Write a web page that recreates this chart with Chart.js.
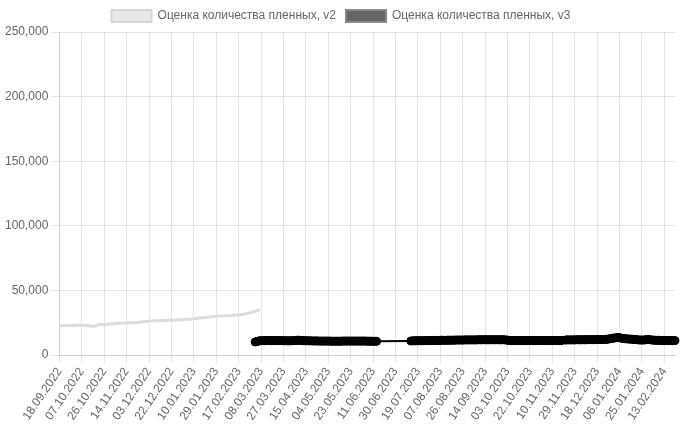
<!DOCTYPE html>
<html lang="ru">
<head>
    <meta charset="utf-8">
    <style>
        body {
            margin: 0;
            background-color: #fff;
        }

        #chartContainer {
            width: 680px;
            height: 425px;
        }
    </style>
</head>
<body>

<div id="chartContainer">
    <canvas id="pwChart"></canvas>
</div>

<script src="https://cdn.jsdelivr.net/npm/chart.js"></script>
<script>
    // date range of the x axis (one category per day)
    const firstDay = '18.09.2022';
    const lastDay = '22.02.2024';

    const seriesNames = ['Оценка количества пленных, v2', 'Оценка количества пленных, v3'];
    const yTicks = [0, 50000, 100000, 150000, 200000, 250000];

    // v2: daily values from 18.09.2022 to 07.03.2023
    const v2Values = [
        22800, 22800, 22850, 22850, 22800, 22850, 22900, 22900, 22850, 22900, 22950, 22900, 22950,
        23000, 23000, 23050, 23100, 23100, 23150, 23200, 23150, 23100, 23000, 22900, 22800, 22700, 22600, 22500, 22450, 22400, 22400, 22500, 22900, 23700, 24000, 23900, 23700, 23600, 23500, 23500, 23600, 23800, 24000, 24100,
        24200, 24300, 24300, 24400, 24500, 24500, 24600, 24600, 24700, 24700, 24800, 24800, 24800, 24900, 24900, 24900, 25000, 25000, 25000, 25100, 25100, 25200, 25300, 25400, 25500, 25600, 25700, 25800, 25900, 26000,
        26100, 26200, 26300, 26400, 26400, 26500, 26500, 26600, 26600, 26600, 26700, 26700, 26700, 26800, 26800, 26800, 26900, 26900, 26900, 27000, 27000, 27000, 27100, 27100, 27100, 27200, 27200, 27300, 27300, 27400, 27400,
        27500, 27500, 27600, 27600, 27700, 27700, 27800, 27900, 28000, 28100, 28300, 28400, 28500, 28600, 28700, 28800, 28900, 29000, 29100, 29200, 29300, 29400, 29500, 29600, 29700, 29800, 29900, 30000, 30000, 30100, 30100,
        30200, 30200, 30300, 30300, 30400, 30400, 30500, 30500, 30600, 30600, 30700, 30700, 30800, 30900, 31000, 31100, 31200, 31300, 31400, 31500, 31700, 31900, 32100, 32300, 32500, 32700, 32900, 33100,
        33400, 33700, 34000, 34300, 34600, 34900, 35100
    ];

    // v3: daily values from 03.03.2023 to 22.02.2024 (null = no report)
    const v3FirstDay = '03.03.2023';
    const v3Values = [
        10200, 10400, 10700, 11000, 11100, 11100, 11200, 11200, 11200, 11300, 11300, 11300, 11300, 11300, 11200, 11200, 11200, 11300, 11300, 11300, 11300, 11300, 11200, 11200, 11200, 11200, 11100, 11100, 11100,
        11100, 11100, 11200, 11200, 11200, 11300, 11400, 11500, 11600, 11500, 11400, 11300, 11200, 11200, 11100, 11100, 11100, 11100, 11100, 11000, 11000, 11000, 11000, 11000, 11000, 10900, 10900, 10900, 10900, 10900,
        10900, 10900, 10900, 10900, 10900, 10800, 10800, 10800, 10800, 10800, 10800, 10800, 10800, 10800, 10800, 10900, 10900, 10900, 10900, 10900, 10900, 10900, 10900, 10900, 10900, 10900, 10900, 10900, 10900, 10900, 10900,
        10900, 10900, 10900, 10900, 10900, 10800, 10800, 10800, 10800, 10800, 10800, 10700, 10700, 10700,
        null, null, null, null, null, null, null, null, null, null, null, null, null, null, null, null,
        null, null, null, null, null, null, null, null, null, null, null, null,
        11000, 11000, 11100, 11100, 11100, 11100, 11100, 11200, 11200, 11200, 11200, 11200, 11200, 11200, 11300, 11300, 11300, 11300, 11300,
        11300, 11400, 11400, 11400, 11400, 11400, 11500, 11500, 11500, 11500, 11500, 11500, 11600, 11600, 11600, 11600, 11600, 11600, 11600, 11700, 11700, 11700, 11700, 11700, 11700, 11700, 11700, 11800, 11800, 11800, 11800,
        11800, 11800, 11800, 11800, 11800, 11800, 11800, 11900, 11900, 11900, 11900, 11900, 11900, 11900, 11900, 11900, 11900, 11900, 11900, 11900, 11900, 11900, 11900, 11900, 11900, 11900, 11900, 11900, 11900, 11900,
        11800, 11700, 11600, 11500, 11400, 11300, 11300, 11300, 11300, 11300, 11300, 11300, 11300, 11300, 11300, 11300, 11300, 11300, 11300, 11300, 11300, 11300, 11300, 11300, 11300, 11300, 11300, 11300, 11300, 11300, 11300,
        11300, 11300, 11300, 11300, 11300, 11300, 11300, 11300, 11300, 11300, 11300, 11300, 11300, 11300, 11300, 11300, 11300, 11300, null, null, 11700, 11800, 11800, 11800, 11800, 11800, 11800, 11800, 11800, 11900,
        11900, 11900, 11900, 11900, 11900, 11900, 11900, 11900, 12000, 12000, 12000, 12000, 12000, 12000, 12000, 12000, 12000, 12100, 12100, 12100, 12100, 12100, 12100, 12200, 12200, 12300, 12400, 12500, 12700, 12900, 13100,
        13200, 13300, 13400, 13500, 13600, 13500, 13300, 13100, 12900, 12800, 12700, 12600, 12500, 12500, 12400, 12400, 12300, 12200, 12100, 12000, 11900, 11800, 11800, 11700, 11700, 11700, 11800, 11900, 12000, 12100, 12000,
        11900, 11800, 11700, 11600, 11600, 11500, 11500, 11500, 11400, 11400, 11400, 11400, 11300, 11300, 11300, 11300, 11300, 11300, 11300, 11200, 11200, 11300
    ];

    function parseDay(s) {
        const p = s.split('.');
        return new Date(Date.UTC(+p[2], +p[1] - 1, +p[0]));
    }

    function formatDay(d) {
        const dd = String(d.getUTCDate()).padStart(2, '0');
        const mm = String(d.getUTCMonth() + 1).padStart(2, '0');
        return dd + '.' + mm + '.' + d.getUTCFullYear();
    }

    // build the list of daily labels
    const labels = [];
    for (let d = parseDay(firstDay); d <= parseDay(lastDay); d.setUTCDate(d.getUTCDate() + 1)) {
        labels.push(formatDay(d));
    }

    const v3Offset = labels.indexOf(v3FirstDay);
    const v3Data = new Array(v3Offset).fill(null).concat(v3Values);

    Chart.defaults.font.family = 'Arial, "Liberation Sans", sans-serif';
    Chart.defaults.font.size = 12;
    Chart.defaults.color = '#666';

    const ctx = document.getElementById('pwChart').getContext('2d');

    new Chart(ctx, {
        type: 'line',
        data: {
            labels: labels,
            datasets: [
                {
                    label: seriesNames[0],
                    data: v2Values,
                    borderColor: '#dcdcdc',
                    backgroundColor: '#e8e8e8',
                    borderWidth: 3,
                    pointRadius: 0,
                    fill: false
                },
                {
                    label: seriesNames[1],
                    data: v3Data,
                    borderColor: '#000',
                    backgroundColor: '#666',
                    borderWidth: 2,
                    pointRadius: 4,
                    pointBorderWidth: 1,
                    pointBackgroundColor: '#000',
                    pointBorderColor: '#000',
                    spanGaps: true,
                    fill: false
                }
            ]
        },
        options: {
            responsive: true,
            maintainAspectRatio: false,
            animation: false,
            layout: {
                padding: { left: 2 }
            },
            plugins: {
                legend: {
                    labels: {
                        boxWidth: 40,
                        color: '#666',
                        generateLabels: function(chart) {
                            const items = Chart.defaults.plugins.legend.labels.generateLabels(chart);
                            // legend swatches have a softer outline than the lines
                            items[0].strokeStyle = '#d6d6d6';
                            items[1].strokeStyle = '#8a8a8a';
                            items[0].lineWidth = 2;
                            items[1].lineWidth = 2;
                            return items;
                        }
                    }
                },
                tooltip: { enabled: false }
            },
            scales: {
                x: {
                    grid: { color: 'rgba(0,0,0,0.1)' },
                    ticks: {
                        autoSkip: true,
                        maxTicksLimit: 28,
                        minRotation: 56,
                        maxRotation: 56,
                        padding: 2
                    }
                },
                y: {
                    min: yTicks[0],
                    max: yTicks[yTicks.length - 1],
                    grid: { color: 'rgba(0,0,0,0.1)' },
                    ticks: {
                        stepSize: yTicks[1] - yTicks[0]
                    }
                }
            }
        }
    });
</script>

</body>
</html>
